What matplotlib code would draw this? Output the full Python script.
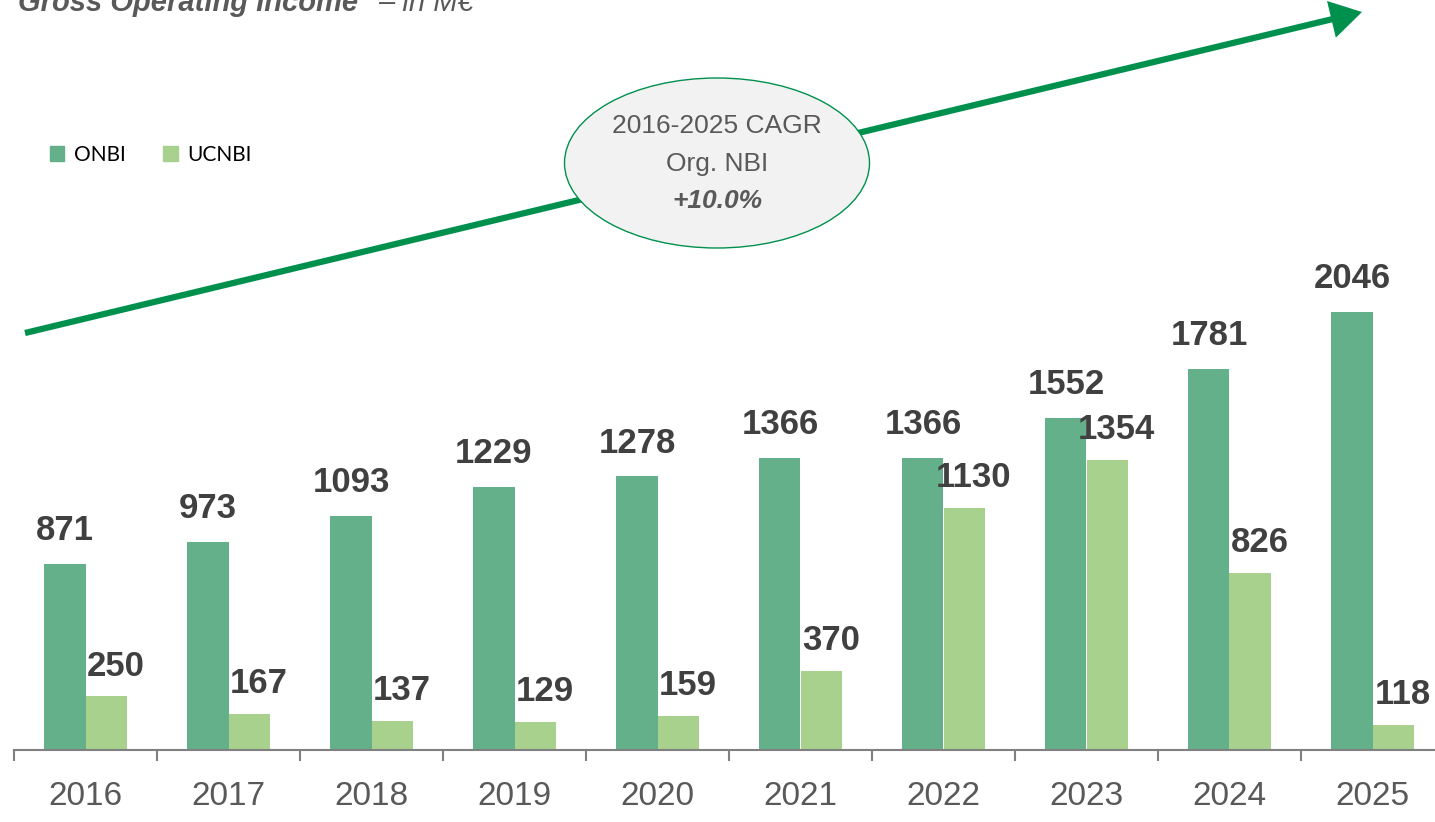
import numpy as np
import matplotlib.pyplot as plt
from matplotlib.patches import Ellipse, FancyArrowPatch, Patch

years = ['2016', '2017', '2018', '2019', '2020', '2021', '2022', '2023', '2024', '2025']
onbi = [871, 973, 1093, 1229, 1278, 1366, 1366, 1552, 1781, 2046]
ucnbi = [250, 167, 137, 129, 159, 370, 1130, 1354, 826, 118]

C_ONBI = '#63B08A'
C_UCNBI = '#A8D18D'
C_ARROW = '#00904E'
C_TEXT = '#595959'
NARROW = ['Liberation Sans', 'DejaVu Sans']

W, H = 1435, 822
fig = plt.figure(figsize=(W / 100, H / 100), dpi=100)

# axes a bit wider than the figure, last category runs off the right edge
ax = fig.add_axes([14 / W, (H - 750) / H, 1430 / W, 750 / H])
x = np.arange(len(years))
bw = 0.287
ax.bar(x - bw / 2, onbi, bw, color=C_ONBI)
ax.bar(x + bw / 2, ucnbi, bw, color=C_UCNBI)
ax.set_xlim(-0.5, len(years) - 0.5)
ax.set_ylim(0, 3503)

for i in range(len(years)):
    ax.annotate(str(onbi[i]), (x[i] - bw / 2, onbi[i]), xytext=(0, 12), textcoords='offset points',
                ha='center', va='bottom', fontsize=25, fontweight='bold', color='#404040', family=NARROW)
    ax.annotate(str(ucnbi[i]), (x[i] + bw / 2, ucnbi[i]), xytext=(7, 10), textcoords='offset points',
                ha='center', va='bottom', fontsize=25, fontweight='bold', color='#404040', family=NARROW)

for s in ['top', 'right', 'left']:
    ax.spines[s].set_visible(False)
ax.spines['bottom'].set_color('#808080')
ax.spines['bottom'].set_linewidth(1.5)
ax.set_yticks([])
ax.set_xticks(np.arange(-0.5, len(years), 1.0))
ax.set_xticklabels([])
ax.tick_params(axis='x', direction='out', length=8, width=1.5, color='#808080')
ax.set_xticks(x, minor=True)
ax.set_xticklabels(years, minor=True, fontsize=24, color=C_TEXT, family=NARROW)
ax.tick_params(axis='x', which='minor', length=0, pad=22)

# growth arrow
arr = FancyArrowPatch((25 / W, 1 - 333 / H), (1362 / W, 1 - 12 / H), transform=fig.transFigure,
                      arrowstyle='-|>,head_length=1.0,head_width=0.6', mutation_scale=16,
                      color=C_ARROW, lw=4.5, shrinkA=0, shrinkB=0, joinstyle='miter', capstyle='butt')
fig.add_artist(arr)

# CAGR bubble
ell = Ellipse((717 / W, 1 - 163 / H), 305 / W, 170 / H, transform=fig.transFigure,
              facecolor='#F2F2F2', edgecolor=C_ARROW, lw=1.0, zorder=5)
fig.add_artist(ell)
fig.text(717 / W, 1 - 126 / H, '2016-2025 CAGR', ha='center', va='center', fontsize=19,
         color=C_TEXT, family=NARROW, zorder=6)
fig.text(717 / W, 1 - 164 / H, 'Org. NBI', ha='center', va='center', fontsize=19,
         color=C_TEXT, family=NARROW, zorder=6)
fig.text(717 / W, 1 - 201 / H, '+10.0%', ha='center', va='center', fontsize=19, fontweight='bold',
         style='italic', color=C_TEXT, family=NARROW, zorder=6)

# title, cut off at the top of the picture
fig.text(18 / W, 1 - 11 / H, 'Gross Operating Income', ha='left', va='baseline', fontsize=21,
         fontweight='bold', style='italic', color=C_TEXT, family=NARROW)
fig.text(378 / W, 1 - 11 / H, '– in M€', ha='left', va='baseline', fontsize=21,
         style='italic', color=C_TEXT, family=NARROW)

handles = [Patch(color=C_ONBI, label='ONBI'), Patch(color=C_UCNBI, label='UCNBI')]
fig.legend(handles=handles, loc='center left', bbox_to_anchor=(31 / W, 1 - 155 / H), ncol=2,
           frameon=False, handlelength=0.7, handleheight=0.7, handletextpad=0.45,
           columnspacing=1.8, prop={'family': ['Lato', 'DejaVu Sans'], 'size': 15})

fig.savefig('out.png', dpi=100)
